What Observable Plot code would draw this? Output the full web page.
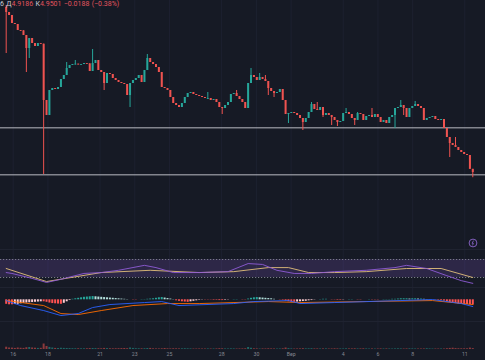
<!DOCTYPE html>
<html><head><meta charset="utf-8">
<script src="https://cdn.jsdelivr.net/npm/d3@7"></script>
<script src="https://cdn.jsdelivr.net/npm/@observablehq/plot@0.6"></script>
<style>
html,body{margin:0;padding:0;background:#161a25;}
#chart{position:relative;width:485px;height:360px;overflow:hidden;background:#161a25;font-family:Roboto,"Noto Sans",sans-serif;}
.pane{position:absolute;left:0;}
.sep{position:absolute;left:0;width:485px;height:1px;background:#1f2330;}
#hdr{position:absolute;left:0px;top:0px;font-size:7px;white-space:nowrap;color:#c9ccd5;line-height:9px;word-spacing:0.6px;}
#hdr .v{color:#e2545e;}
</style></head><body><div id="chart"></div><script>
// ---- data ----
const closes = [
5.910,5.892,5.844,5.838,5.802,5.800,5.772,5.694,5.754,5.724,
5.706,5.724,5.720,5.382,5.292,5.442,5.454,5.448,5.460,5.508,
5.532,5.574,5.592,5.598,5.600,5.596,5.598,5.604,5.602,5.556,
5.604,5.622,5.562,5.550,5.484,5.544,5.538,5.514,5.502,5.490,
5.484,5.478,5.412,5.484,5.502,5.514,5.532,5.490,5.562,5.634,
5.610,5.598,5.580,5.550,5.460,5.454,5.442,5.400,5.364,
5.352,5.340,5.364,5.400,5.424,5.430,5.418,5.412,5.406,5.400,
5.394,5.394,5.382,5.388,5.370,5.340,5.334,5.352,
5.370,5.418,5.424,5.406,5.388,5.370,5.334,5.484,5.532,5.520,
5.502,5.520,5.508,5.496,5.454,5.436,5.424,5.430,
5.448,5.382,5.298,5.304,5.310,5.304,5.292,5.274,5.250,
5.274,5.310,5.358,5.328,5.322,5.340,5.292,5.304,
5.292,5.280,5.262,5.250,5.256,5.304,5.310,5.298,5.274,5.262,
5.304,5.298,5.262,5.286,5.292,5.280,5.298,5.280,
5.250,5.262,5.244,5.280,5.292,5.334,5.340,5.352,5.334,5.280,
5.334,5.346,5.358,5.346,5.334,5.262,5.274,5.280,
5.286,5.268,5.262,5.268,5.214,5.160,5.124,5.112,
5.100,5.082,5.070,5.058,5.052,4.969,4.9501];
const firstOpen = 5.940;
const highWicks = [[0,5.952],[21,5.610],[24,5.622],[30,5.688],[49,5.658],[70,5.430],[80,5.442],[85,5.574],[88,5.544],[90,5.532],[106,5.370],[108,5.370],[118,5.334],[122,5.310],[127,5.334],[137,5.382],[142,5.376],[156,5.160]];
const lowWicks = [[0,5.664],[7,5.550],[8,5.634],[13,4.938],[34,5.442],[43,5.340],[75,5.298],[91,5.412],[93,5.400],[98,5.244],[103,5.202],[110,5.280],[113,5.232],[115,5.226],[121,5.232],[135,5.214],[138,5.292],[154,5.040],[162,4.9186]];
const volumes = [
46,30,28,22,30,25,22,35,40,30, 26,22,24,110,60,42,30,22,20,25,
22,20,18,16,15,15,14,14,15,18, 20,18,16,14,22,18,15,14,15,16,
18,20,16,30,22,16,15,14,16,20, 22,14,12,12,14,20,14,12,15,
14,12,14,16,14,12,10,10,11,10, 10,12,10,11,12,16,14,12,
11,13,12,10,11,12,14,40,25,14, 12,10,12,11,14,12,11,10,
11,14,30,18,12,10,11,12,16, 13,14,16,12,12,11,12,13,
10,11,14,12,12,11,14,12,12,14, 12,12,14,12,10,11,10,10,
12,11,12,11,10,12,14,12,10,12, 14,12,11,10,10,11,16,12,
10,10,10,11,10,16,22,26, 18,15,14,14,14,28,18];
const macdHist = [
-0.018,-0.020,-0.020,-0.019,-0.018,-0.016,
-0.014,-0.013,-0.012,-0.011,-0.010,-0.009,-0.008,-0.008,
-0.010,-0.013,-0.015,-0.016,-0.017,-0.018,
-0.014,-0.008,-0.003,
0.002,0.004,0.006,0.008,0.010,0.011,0.012,0.013,
0.012,0.011,0.010,0.009,0.008,0.007,0.006,0.005,0.004,0.003,
0.002,0.001,0.000,-0.001,-0.001,0.000,0.001,0.001,0.002,0.003,0.004,
0.006,0.008,0.009,0.007,0.005,0.003,0.001,
-0.004,-0.006,-0.008,-0.009,-0.010,-0.008,-0.006,-0.004,-0.002,
-0.001,-0.001,-0.001,-0.001,-0.002,-0.002,-0.003,-0.003,-0.002,-0.001,0.000,0.001,0.001,0.000,-0.001,-0.001,
0.003,0.006,0.008,0.009,0.008,0.007,0.006,0.005,0.004,0.002,
0.000,-0.001,-0.002,-0.005,-0.008,-0.010,-0.010,-0.009,-0.008,-0.007,-0.006,-0.004,-0.003,-0.001,0.000,
0.001,0.002,0.002,0.000,-0.001,-0.001,-0.002,-0.002,-0.001,0.000,0.001,0.001,0.000,-0.001,-0.001,0.000,0.000,0.001,-0.001,-0.001,-0.001,0.000,0.001,0.001,
0.001,0.002,0.002,0.003,0.004,0.004,0.004,0.003,0.004,0.004,0.003,0.003,0.002,0.001,0.001,0.000,-0.001,-0.002,
-0.003,-0.005,-0.008,-0.011,-0.013,-0.015,-0.017,-0.018,-0.018,-0.019,-0.020,-0.021];
const rsiIdx = [0,2,9,14,19,27,33,39,48,52,58,67,77,84,89,94,100,106,114,125,135,139,146,153,158,162];
const rsiVal = [41,39,28,19,26,39,41,46,57,52,41,41,43,61,59,46,39,39,43,46,52,57,50,34,23,17];
const rsiMaIdx = [0,14,33,50,67,79,91,98,105,114,125,139,151,162];
const rsiMaVal = [50,21,41,46,41,43,52,52,41,41,43,50,50,30];
const rsiLevels = [30,70];
const macdIdx = [0,5,13,19,25,30,36,48,54,60,79,86,98,102,114,137,148,158,162];
const macdVal = [-0.003,-0.023,-0.043,-0.063,-0.055,-0.031,-0.019,-0.011,-0.007,-0.023,-0.015,-0.007,-0.003,-0.015,-0.011,-0.003,0.001,-0.015,-0.027];
const signalIdx = [0,13,19,25,33,44,56,67,91,102,125,148,162];
const signalVal = [-0.003,-0.023,-0.055,-0.059,-0.043,-0.023,-0.015,-0.015,-0.007,-0.011,-0.007,-0.003,-0.019];
const levels = [5.218, 4.936];
const tickDates = ["2024-08-16","2024-08-18","2024-08-21","2024-08-23","2024-08-25","2024-08-28","2024-08-30","2024-09-01","2024-09-04","2024-09-06","2024-09-08","2024-09-11"];
const tickLabels = ["16","18","21","23","25","28","30","Вер","4","6","8","11"];
const firstTime = Date.UTC(2024,7,15,14,20), lastTime = Date.UTC(2024,8,11,11,0);

// ---- build tables ----
const UP="#26a69a", DN="#ef5350";
const day = 86400000, base = Date.UTC(2024,7,16);
const xDomain = [new Date(base - 0.7311*day), new Date(base + 27.19*day)];
const step = (lastTime-firstTime)/(closes.length-1);
const timeAt = i => new Date(firstTime + i*step);
const hiMap = new Map(highWicks), loMap = new Map(lowWicks);
const candles = closes.map((c,i)=>{
  const o = i===0 ? firstOpen : closes[i-1];
  let b1 = Math.max(o,c), b2 = Math.min(o,c);
  if (b1-b2 < 0.005) b2 = b1-0.005;
  return {t:timeAt(i), o, c, b1, b2, h: hiMap.has(i)?hiMap.get(i):b1, l: loMap.has(i)?loMap.get(i):b2, up: c>=o, v: volumes[i],
    hist: macdHist[i]};
});
candles.forEach((d,i)=>{
  const p = i>0 ? macdHist[i-1] : 0, h = d.hist;
  d.hc = h>=0 ? (h>=p ? "#26a69a" : "#b2dfdb") : (h<=p ? "#ff5252" : "#ffcdd2");
});
const rsi = rsiIdx.map((k,j)=>({t:timeAt(k), v:rsiVal[j]}));
const rsiMa = rsiMaIdx.map((k,j)=>({t:timeAt(k), v:rsiMaVal[j]}));
const macd = macdIdx.map((k,j)=>({t:timeAt(k), v:macdVal[j]}));
const signal = signalIdx.map((k,j)=>({t:timeAt(k), v:signalVal[j]}));
const ticks = tickDates.map((d,i)=>({t:new Date(d+"T00:00:00Z"), label:tickLabels[i]}));

const chart = document.getElementById("chart");
function place(svg, top){ svg.classList.add("pane"); svg.style.top = top+"px"; chart.appendChild(svg); }
const common = {width:485, marginLeft:0, marginRight:0, color:{type:"identity"},
  x:{type:"utc", domain:xDomain, axis:null}, style:{background:"transparent", overflow:"visible"}};
const grid = Plot.ruleX(ticks, {x:"t", stroke:"#1d2130", strokeWidth:1});

// main pane
place(Plot.plot({...common, height:250, marginTop:0, marginBottom:0,
  y:{domain:[4.482,5.982], axis:null},
  marks:[
    grid,
    Plot.ruleY(levels, {stroke:"#b9bbc2", strokeWidth:1}),
    Plot.ruleX(candles, {x:"t", y1:"l", y2:"h", stroke:d=>d.up?UP:DN, strokeWidth:1}),
    Plot.ruleX(candles, {x:"t", y1:"b2", y2:"b1", stroke:d=>d.up?UP:DN, strokeWidth:2})
  ]}), 0);

// RSI pane
place(Plot.plot({...common, height:38, marginTop:0, marginBottom:0,
  y:{domain:[5.556,90], axis:null},
  marks:[
    grid,
    Plot.rect([rsiLevels], {x1:()=>xDomain[0], x2:()=>xDomain[1], y1:d=>d[0], y2:d=>d[1], fill:"#7e57c2", fillOpacity:0.22}),
    Plot.ruleY(rsiLevels, {stroke:"#787b86", strokeWidth:1, strokeDasharray:"1.2,1.8"}),
    Plot.line(rsiMa, {x:"t", y:"v", stroke:"#e2c07a", strokeWidth:0.9}),
    Plot.line(rsi, {x:"t", y:"v", stroke:"#8e5bd6", strokeWidth:0.9})
  ]}), 250);

// MACD pane
place(Plot.plot({...common, height:34, marginTop:0, marginBottom:0,
  y:{domain:[-0.0908,0.0452], axis:null},
  marks:[
    grid,
    Plot.ruleX(candles, {x:"t", y1:0, y2:"hist", stroke:"hc", strokeWidth:2}),
    Plot.line(signal, {x:"t", y:"v", stroke:"#ff6d00", strokeWidth:0.9}),
    Plot.line(macd, {x:"t", y:"v", stroke:"#2962ff", strokeWidth:0.9})
  ]}), 288);

// Volume pane + x labels
place(Plot.plot({...common, height:38, marginTop:0, marginBottom:11,
  y:{domain:[0,540], axis:null},
  marks:[
    grid,
    Plot.ruleX(candles, {x:"t", y1:0, y2:"v", stroke:d=>d.up?UP:DN, strokeOpacity:0.55, strokeWidth:2}),
    Plot.text(ticks, {x:"t", text:"label", frameAnchor:"bottom", dy:6.5, fill:"#868993", fontSize:5.2, fontFamily:"Roboto, sans-serif"})
  ]}), 322);

// separators
[249, 287, 321].forEach(y=>{ const s=document.createElement("div"); s.className="sep"; s.style.top=y+"px"; chart.appendChild(s); });

// header legend
const hdr = document.createElement("div"); hdr.id="hdr";
hdr.innerHTML = '6 Д<span class="v">4.9186</span> К<span class="v">4.9501</span> <span class="v">−0.0188 (−0.38%)</span>';
chart.appendChild(hdr);

// small icon bottom-right of main pane
const ns="http://www.w3.org/2000/svg";
const ic=document.createElementNS(ns,"svg"); ic.setAttribute("width","12"); ic.setAttribute("height","12");
ic.style.cssText="position:absolute;left:467px;top:237px;";
ic.innerHTML='<circle cx="6" cy="6" r="3.9" fill="none" stroke="#9b6fe0" stroke-width="0.8"/><path d="M6.6 3.6 L5 6.3 L6.4 6.3 L5.5 8.4" fill="none" stroke="#9b6fe0" stroke-width="0.7"/>';
chart.appendChild(ic);
</script></body></html>
